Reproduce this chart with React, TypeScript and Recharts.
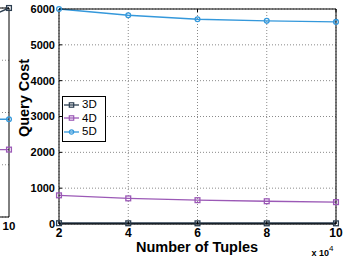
import React from "react";
import { CartesianGrid, Line, LineChart, XAxis, YAxis } from "recharts";

// main chart
const tuples = [2, 4, 6, 8, 10];
const cost3D = [22, 20, 19, 18, 18];
const cost4D = [800, 715, 665, 635, 610];
const cost5D = [6000, 5825, 5715, 5670, 5640];
const xTicks = [2, 4, 6, 8, 10];
const yTicks = [0, 1000, 2000, 3000, 4000, 5000, 6000];

// right edge of the neighbouring panel (cut off in the figure)
const leftTuples = [8, 10];
const left3D = [3.4, 4.0];
const left4D = [1.29, 1.29];
const left5D = [1.87, 1.87];
const leftYTicks = [0, 1, 2, 3, 4];

const COLORS = { d3: "#2c3e50", d4: "#9b59b6", d5: "#3498db" };
const FONT = "'Liberation Sans', Arial, Helvetica, sans-serif";

const SERIES = [
  { key: "d3", name: "3D", color: COLORS.d3, shape: "square" },
  { key: "d4", name: "4D", color: COLORS.d4, shape: "square" },
  { key: "d5", name: "5D", color: COLORS.d5, shape: "circle" },
];

const data = tuples.map((x, i) => ({
  x,
  d3: cost3D[i],
  d4: cost4D[i],
  d5: cost5D[i],
}));

const leftData = leftTuples.map((x, i) => ({
  x,
  d3: left3D[i],
  d4: left4D[i],
  d5: left5D[i],
}));

const makeDot = (color: string, shape: string) => (props: any) => {
  const { cx, cy, index } = props;
  if (cx == null || cy == null) return <g key={index} />;
  if (shape === "circle") {
    return (
      <circle
        key={index}
        cx={cx}
        cy={cy}
        r={2.4}
        fill="none"
        stroke={color}
        strokeWidth={1.3}
      />
    );
  }
  return (
    <rect
      key={index}
      x={cx - 2.4}
      y={cy - 2.4}
      width={4.8}
      height={4.8}
      fill="none"
      stroke={color}
      strokeWidth={1.3}
    />
  );
};

const LegendBox = () => (
  <div
    style={{
      position: "absolute",
      left: 62,
      top: 96,
      border: "1px solid #000",
      background: "#fff",
      width: 42,
      padding: "1px 0 2px 0",
      fontFamily: FONT,
      fontSize: 11.5,
      lineHeight: 1,
    }}
  >
    {SERIES.map((s) => (
      <div
        key={s.key}
        style={{ display: "flex", alignItems: "center", height: 13.5 }}
      >
        <svg width={17} height={8} style={{ marginRight: 2 }}>
          <line x1={1} y1={4} x2={16} y2={4} stroke={s.color} strokeWidth={1.3} />
          {s.shape === "circle" ? (
            <circle cx={8.5} cy={4} r={2.2} fill="none" stroke={s.color} strokeWidth={1.2} />
          ) : (
            <rect x={6.3} y={1.8} width={4.4} height={4.4} fill="none" stroke={s.color} strokeWidth={1.2} />
          )}
        </svg>
        <span style={{ color: "#000" }}>{s.name}</span>
      </div>
    ))}
  </div>
);

const gridStyle = { stroke: "#8a8a8a", strokeDasharray: "1 2", strokeWidth: 1 };

export default function App() {
  return (
    <div
      style={{
        position: "absolute",
        left: 0,
        top: 0,
        width: 349,
        height: 259,
        overflow: "hidden",
        background: "#fff",
      }}
    >
      {/* neighbouring panel, only its right edge is visible */}
      <div style={{ position: "absolute", left: -61, top: 0 }}>
        <LineChart
          width={89}
          height={259}
          data={leftData}
          margin={{ top: 8, right: 19, left: 0, bottom: 0 }}
        >
          <CartesianGrid {...gridStyle} vertical={false} />
          <XAxis
            dataKey="x"
            type="number"
            domain={[8, 10]}
            ticks={[8, 10]}
            interval={0}
            height={42}
            axisLine={{ stroke: "#000" }}
            tickLine={false}
            tickSize={4}
            tickMargin={1}
            tick={{ fill: "#000", fontSize: 11.5, fontWeight: "bold", fontFamily: FONT }}
          />
          <XAxis
            xAxisId="top"
            orientation="top"
            type="number"
            domain={[8, 10]}
            ticks={[8, 10]}
            height={1}
            mirror
            tickSize={3}
            tickFormatter={() => ""}
            tickLine={{ stroke: "#000" }}
            axisLine={{ stroke: "#000" }}
          />
          <YAxis hide type="number" domain={[0, 4]} ticks={leftYTicks} />
          <YAxis
            yAxisId="right"
            orientation="right"
            type="number"
            domain={[0, 4]}
            ticks={leftYTicks}
            width={1}
            mirror
            tickSize={3}
            tickFormatter={() => ""}
            tickLine={{ stroke: "#000" }}
            axisLine={{ stroke: "#000" }}
          />
          {SERIES.map((s) => (
            <Line
              key={s.key}
              dataKey={s.key}
              stroke={s.color}
              strokeWidth={1.4}
              dot={makeDot(s.color, s.shape)}
              isAnimationActive={false}
            />
          ))}
        </LineChart>
      </div>

      <div style={{ position: "absolute", left: 0, top: 0 }}>
        <LineChart
          width={349}
          height={259}
          data={data}
          margin={{ top: 9, right: 13, left: 0, bottom: 0 }}
        >
          <CartesianGrid {...gridStyle} />
          <XAxis
            dataKey="x"
            type="number"
            domain={[2, 10]}
            ticks={xTicks}
            interval={0}
            height={35}
            axisLine={{ stroke: "#000" }}
            tickLine={{ stroke: "#000" }}
            tickSize={-3}
            tickMargin={7}
            tick={{ fill: "#000", fontSize: 12, fontWeight: "bold", fontFamily: FONT }}
          />
          <XAxis
            xAxisId="top"
            orientation="top"
            type="number"
            domain={[2, 10]}
            ticks={xTicks}
            height={1}
            mirror
            tickSize={3}
            tickFormatter={() => ""}
            tickLine={{ stroke: "#000" }}
            axisLine={{ stroke: "#000" }}
          />
          <YAxis
            type="number"
            domain={[0, 6000]}
            ticks={yTicks}
            interval={0}
            width={59}
            axisLine={{ stroke: "#000" }}
            tickLine={{ stroke: "#000" }}
            tickSize={-3}
            tickMargin={7}
            tick={{ fill: "#000", fontSize: 11, fontWeight: "bold", fontFamily: FONT }}
          />
          <YAxis
            yAxisId="right"
            orientation="right"
            type="number"
            domain={[0, 6000]}
            ticks={yTicks}
            width={1}
            mirror
            tickSize={3}
            tickFormatter={() => ""}
            tickLine={{ stroke: "#000" }}
            axisLine={{ stroke: "#000" }}
          />
          {SERIES.map((s) => (
            <Line
              key={s.key}
              dataKey={s.key}
              name={s.name}
              stroke={s.color}
              strokeWidth={s.key === "d3" ? 2 : 1.4}
              dot={makeDot(s.color, s.shape)}
              isAnimationActive={false}
            />
          ))}
        </LineChart>
      </div>

      <LegendBox />

      {/* axis titles */}
      <svg
        width={349}
        height={259}
        style={{ position: "absolute", left: 0, top: 0, pointerEvents: "none" }}
      >
        <text
          transform="translate(28.5, 98) rotate(-90)"
          textAnchor="middle"
          fontFamily={FONT}
          fontWeight="bold"
          fontSize={14.5}
          fill="#000"
        >
          Query Cost
        </text>
        <text
          x={197}
          y={251.5}
          textAnchor="middle"
          fontFamily={FONT}
          fontWeight="bold"
          fontSize={14.5}
          fill="#000"
        >
          Number of Tuples
        </text>
        <text x={311.5} y={255.5} fontFamily={FONT} fontWeight="bold" fontSize={9} fill="#000">
          x 10
        </text>
        <text x={329} y={250.5} fontFamily={FONT} fontSize={8} fill="#000">
          4
        </text>
      </svg>
    </div>
  );
}
